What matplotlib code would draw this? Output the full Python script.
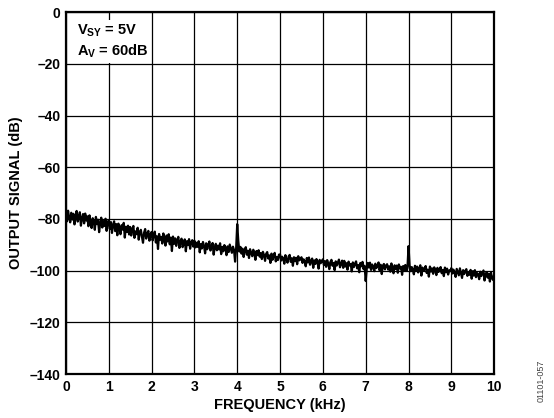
import matplotlib
matplotlib.use("Agg")
import matplotlib.pyplot as plt
import numpy as np

plt.rcParams['font.family'] = ['Liberation Sans', 'DejaVu Sans']
plt.rcParams['font.weight'] = 'bold'
plt.rcParams['mathtext.fontset'] = 'custom'
plt.rcParams['mathtext.rm'] = 'Liberation Sans:bold'
plt.rcParams['mathtext.bf'] = 'Liberation Sans:bold'
plt.rcParams['mathtext.it'] = 'Liberation Sans:bold'

# output spectrum, 0.025 kHz steps, one row per 0.5 kHz
signal_db = [
    -77.2, -80.9, -76.8, -79.5, -81.3, -77.6, -80.2, -78.0, -82.1, -78.9,
    -76.9, -81.0, -79.3, -77.4, -82.6, -79.8, -78.1, -81.7, -77.9, -80.6,
    -79.0, -82.8, -78.6, -81.4, -83.5, -79.7, -80.9, -84.2, -79.2, -82.0,
    -80.3, -85.1, -81.6, -79.5, -83.3, -80.8, -82.7, -79.9, -84.6, -81.2,
    -80.6, -83.9, -81.2, -85.4, -82.3, -80.9, -84.7, -82.0, -86.3, -81.8,
    -83.6, -85.9, -82.4, -84.1, -81.5, -87.2, -83.0, -85.0, -82.6, -86.0,
    -83.1, -86.4, -84.0, -82.7, -87.3, -84.8, -85.9, -83.4, -88.0, -85.1,
    -84.2, -86.9, -89.2, -85.3, -83.9, -87.6, -85.7, -84.6, -88.4, -86.1,
    -85.0, -88.3, -86.2, -84.9, -89.1, -86.7, -91.6, -85.8, -88.0, -86.9,
    -89.5, -85.6, -87.8, -90.3, -86.4, -88.7, -85.9, -89.8, -87.2, -92.4,
    -86.8, -89.6, -87.5, -90.4, -88.1, -86.9, -91.2, -88.8, -87.6, -90.9,
    -89.3, -87.9, -92.5, -88.6, -90.1, -87.8, -91.5, -89.0, -88.2, -90.7,
    -88.4, -91.0, -89.2, -90.8, -88.6, -92.9, -89.7, -91.4, -88.9, -90.5,
    -93.3, -89.4, -91.7, -90.0, -88.7, -92.2, -90.6, -89.3, -93.8, -90.9,
    -89.6, -92.1, -90.3, -91.8, -89.4, -93.6, -90.8, -92.5, -90.1, -91.2,
    -94.0, -90.6, -92.8, -89.9, -91.5, -93.1, -90.7, -92.0, -96.5, -91.3,
    -82.0, -88.5, -92.6, -90.8, -93.4, -91.5, -94.7, -92.0, -90.9, -93.8,
    -92.3, -95.1, -91.7, -93.0, -94.4, -91.9, -93.6, -95.8, -92.4, -94.0,
    -92.1, -94.6, -93.2, -95.5, -92.7, -94.0, -96.2, -93.5, -92.8, -95.3,
    -94.1, -97.0, -93.4, -95.8, -94.3, -93.1, -96.4, -94.7, -95.9, -93.8,
    -93.7, -96.1, -94.6, -95.4, -97.3, -94.0, -95.8, -96.9, -94.5, -93.9,
    -96.6, -95.2, -98.1, -94.8, -96.3, -95.0, -97.5, -94.4, -96.0, -95.6,
    -94.8, -97.0, -95.6, -96.5, -98.3, -95.1, -96.8, -94.9, -97.7, -96.2,
    -95.3, -98.9, -96.0, -97.4, -95.5, -96.7, -99.2, -95.8, -97.1, -96.3,
    -95.6, -97.8, -96.3, -98.5, -95.9, -97.2, -99.4, -96.7, -95.8, -98.1,
    -97.0, -99.8, -96.4, -98.0, -96.9, -95.7, -98.7, -97.3, -96.1, -98.9,
    -96.2, -98.4, -97.1, -99.6, -96.5, -98.0, -97.4, -100.3, -96.8, -98.6,
    -97.3, -96.4, -99.1, -97.8, -100.6, -97.0, -98.3, -96.6, -99.4, -98.1,
    -104.0, -99.2, -97.0, -98.8, -96.9, -99.7, -97.6, -98.4, -100.2, -97.3,
    -99.0, -98.1, -96.8, -99.9, -97.7, -101.3, -98.2, -97.4, -99.5, -98.0,
    -97.5, -99.6, -98.3, -100.4, -97.2, -98.9, -101.0, -97.9, -99.3, -98.0,
    -100.8, -97.6, -99.1, -98.5, -101.6, -98.2, -99.8, -97.8, -100.1, -99.0,
    -90.5, -97.9, -100.2, -98.6, -99.5, -101.4, -98.1, -99.9, -98.4, -100.7,
    -99.2, -97.9, -101.9, -98.8, -100.0, -99.3, -98.2, -100.9, -99.6, -102.3,
    -98.4, -100.3, -99.1, -101.2, -98.7, -99.8, -101.7, -98.9, -100.5, -99.4,
    -98.6, -101.0, -99.7, -102.1, -98.8, -100.6, -99.2, -101.5, -99.9, -100.2,
    -99.0, -101.1, -99.6, -100.8, -102.4, -99.3, -100.5, -101.8, -99.1, -100.9,
    -102.8, -99.8, -101.3, -100.1, -99.4, -102.0, -100.7, -101.6, -99.7, -103.1,
    -100.2, -101.9, -99.8, -102.5, -100.9, -101.4, -103.3, -100.4, -102.1, -101.0,
    -99.9, -103.8, -101.6, -100.6, -102.7, -101.2, -104.2, -100.8, -102.9, -103.6,
    -101.4,
]
freq_khz = np.linspace(0, 10, len(signal_db))

xticks = list(range(0, 11))
yticks = list(range(-140, 1, 20))

fig = plt.figure(figsize=(5.54, 4.18), dpi=100)
ax = fig.add_axes([0.119, 0.105, 0.773, 0.866])

ax.plot(freq_khz, signal_db, color='black', lw=1.6, zorder=3)

ax.set_xlim(0, 10)
ax.set_ylim(-140, 0)
ax.set_xticks(xticks)
ax.set_yticks(yticks)
ax.set_yticklabels([str(v).replace('-', '\u2013') for v in yticks])
ax.grid(True, color='black', lw=0.9)
ax.tick_params(length=0, labelsize=10, pad=4)
for sp in ax.spines.values():
    sp.set_linewidth(1.6)

ax.set_xlabel('FREQUENCY (kHz)', fontsize=10.5, fontweight='bold', labelpad=3)
ax.set_ylabel('OUTPUT SIGNAL (dB)', fontsize=10.5, fontweight='bold', labelpad=5)

ax.text(0.25, -4.0, '$V_{SY}$ = 5V\n$A_V$ = 60dB', fontsize=10.5,
        fontweight='bold', va='top', ha='left', linespacing=1.3,
        bbox=dict(facecolor='white', edgecolor='none', pad=2), zorder=4)

fig.text(0.977, 0.09, '01101-057', rotation=90, fontsize=6.5, color='#444444',
         fontweight='normal', ha='center', va='center')

fig.savefig('out.png', dpi=100)
